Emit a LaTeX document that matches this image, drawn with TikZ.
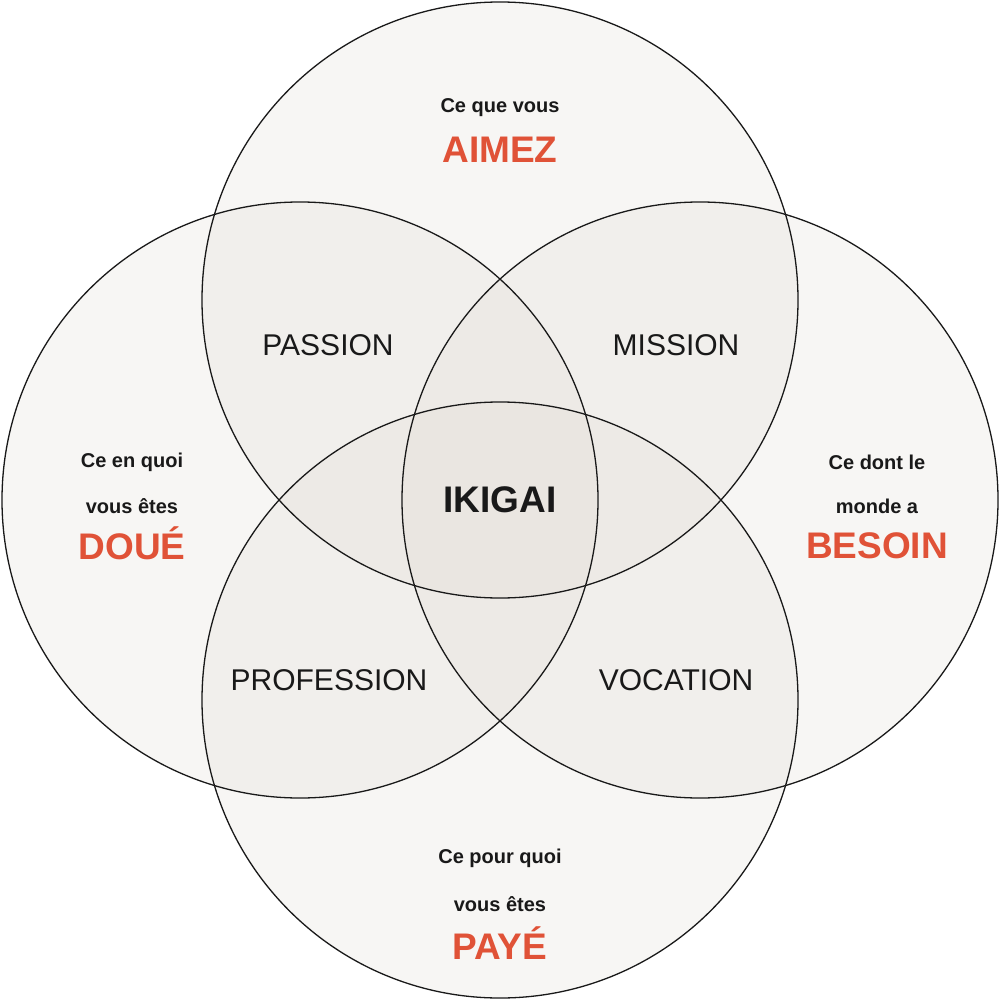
\documentclass[tikz,border=0pt]{standalone}
\usepackage{fontspec}
\setmainfont{Liberation Sans}
\begin{document}
\begin{tikzpicture}[x=1pt,y=-1pt,
  circ/.style={fill={rgb,255:red,226;green,220;blue,214},fill opacity=0.25},
  ring/.style={draw=black!90,line width=1.3pt},
  small/.style={font=\bfseries\fontsize{20}{22}\selectfont,text=black!90},
  big/.style={font=\bfseries\fontsize{37}{40}\selectfont,text={rgb,255:red,224;green,82;blue,55}},
  mid/.style={font=\fontsize{30}{32}\selectfont,text=black!90},
  core/.style={font=\bfseries\fontsize{37}{40}\selectfont,text=black!90}]
\useasboundingbox (0,0) rectangle (1000,1000);
\fill[white] (0,0) rectangle (1000,1000);
\foreach \c in {(500,300),(300,500),(700,500),(500,700)} \path[circ] \c circle (298);
\foreach \c in {(500,300),(300,500),(700,500),(500,700)} \draw[ring] \c circle (298);
\node[small] (t1) at (500,108) {Ce que vous};
\node[big] (t2) at (500,150) {AIMEZ};
\node[small] (l1) at (132,462) {Ce en quoi};
\node[small] (l2) at (132,506) {vous êtes};
\node[big] (l3) at (132,543) {DOUÉ};
\node[small] (r1) at (877,462) {Ce dont le};
\node[small] (r2) at (877,506) {monde a};
\node[big] (r3) at (877,546) {BESOIN};
\node[small] (b1) at (500,858) {Ce pour quoi};
\node[small] (b2) at (500,904) {vous êtes};
\node[big] (b3) at (500,943) {PAYÉ};
\node[mid] (p) at (328,345) {PASSION};
\node[mid] (m) at (676,345) {MISSION};
\node[mid] (pr) at (329,680) {PROFESSION};
\node[mid] (v) at (676,680) {VOCATION};
\node[core] (ik) at (500,500) {IKIGAI};
\end{tikzpicture}
\end{document}
